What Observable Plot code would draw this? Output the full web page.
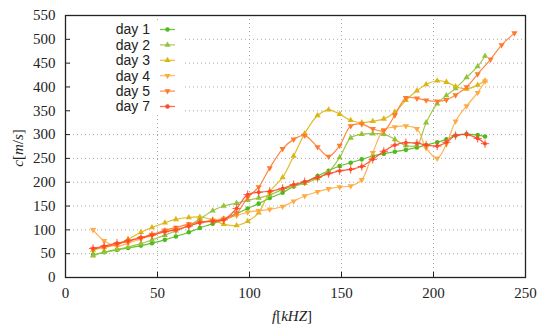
<!DOCTYPE html>
<html><head><meta charset="utf-8">
<script src="https://cdn.jsdelivr.net/npm/d3@7"></script>
<script src="https://cdn.jsdelivr.net/npm/@observablehq/plot@0.6"></script>
<style>body{margin:0;background:#fff} #chart{width:538px;height:329px}</style>
</head><body><div id="chart"></div><script>
// Frequency samples (kHz)
const freq = [15, 21, 28, 34, 41, 47, 54, 60, 67, 73, 80, 86, 93, 99, 105, 111, 118, 124, 130, 137, 143, 149, 155, 161, 167, 173, 179, 185, 191, 196, 202, 207, 212, 218, 224, 228];
const freq5 = [15, 21, 28, 34, 41, 47, 54, 60, 67, 73, 80, 86, 93, 99, 105, 111, 118, 124, 130, 137, 143, 149, 155, 161, 167, 173, 179, 185, 191, 196, 202, 207, 212, 218, 224, 231, 237, 244];
// Speeds c (m/s)
const day1 = [48, 53, 58, 62, 67, 72, 79, 86, 95, 104, 113, 123, 134, 145, 155, 167, 178, 191, 200, 213, 224, 234, 241, 248, 255, 260, 264, 268, 273, 278, 284, 290, 298, 301, 299, 296];
const day2 = [46, 53, 59, 64, 71, 79, 89, 98, 109, 123, 140, 150, 156, 162, 167, 173, 185, 192, 198, 208, 222, 252, 293, 301, 302, 301, 290, 277, 278, 325, 365, 382, 397, 420, 443, 465];
const day3 = [58, 63, 69, 80, 95, 105, 115, 122, 126, 127, 121, 112, 109, 118, 136, 180, 210, 255, 302, 340, 352, 343, 330, 325, 328, 333, 347, 372, 392, 405, 413, 410, 401, 396, 404, 413];
const day4 = [100, 77, 66, 72, 81, 88, 96, 101, 108, 115, 120, 124, 130, 137, 140, 143, 149, 160, 171, 180, 186, 190, 192, 205, 262, 310, 316, 318, 312, 272, 250, 280, 328, 360, 388, 412];
const day5 = [60, 64, 70, 76, 83, 90, 99, 105, 112, 116, 119, 121, 135, 168, 190, 230, 270, 290, 298, 274, 254, 277, 318, 322, 312, 308, 341, 377, 376, 372, 370, 373, 383, 400, 427, 458, 488, 513];
const day7 = [61, 66, 72, 77, 84, 89, 96, 100, 108, 115, 118, 121, 145, 174, 179, 181, 187, 195, 201, 210, 218, 224, 227, 233, 248, 265, 278, 283, 282, 278, 276, 284, 298, 300, 292, 281];

const seriesNames = ["day 1", "day 2", "day 3", "day 4", "day 5", "day 7"];
const seriesColors = ["#4fbb1c", "#95c23a", "#dcb614", "#ffab42", "#ff7a2e", "#ff4a2a"];
const xTicks = [0, 50, 100, 150, 200, 250];
const yTicks = [0, 50, 100, 150, 200, 250, 300, 350, 400, 450, 500, 550];
const xGrid = [50, 100, 150, 200];
const yGrid = [50, 100, 150, 200, 250, 300, 350, 400, 450, 500];

const seriesData = [
  [freq, day1], [freq, day2], [freq, day3], [freq, day4], [freq5, day5], [freq, day7]
];
const rows = [];
seriesData.forEach(([xs, ys], k) => xs.forEach((x, i) => rows.push({series: seriesNames[k], f: x, c: ys[i]})));

// custom downward triangle symbol
const triangleDown = {
  draw(ctx, size) {
    const y = -Math.sqrt(size / (Math.sqrt(3) * 3));
    const s = Math.sqrt(3);
    ctx.moveTo(0, -y * 2);
    ctx.lineTo(-s * y, y);
    ctx.lineTo(s * y, y);
    ctx.closePath();
  }
};
const symbols = ["circle", "triangle", "triangle", triangleDown, triangleDown, "circle"];

const W = 538, H = 329, ML = 65, MR = 13, MT = 15, MB = 52;
const fw = W - ML - MR, fh = H - MT - MB;

const marks = [
  Plot.ruleX(xGrid, {x: d => d, stroke: "#aaa", strokeWidth: 1, strokeDasharray: "1,3"}),
  Plot.ruleY(yGrid, {y: d => d, stroke: "#aaa", strokeWidth: 1, strokeDasharray: "1,3"}),
  Plot.tickY(yTicks, {y: d => d, insetRight: fw - 5, stroke: "#222", strokeWidth: 1}),
  Plot.tickX(xTicks, {x: d => d, insetTop: fh - 5, stroke: "#222", strokeWidth: 1}),
  Plot.axisX({ticks: xTicks, tickSize: 0, tickPadding: 10, label: null, fontSize: 15, fontFamily: "Liberation Serif", fill: "#222"}),
  Plot.axisY({ticks: yTicks, tickSize: 0, tickPadding: 10, label: null, fontSize: 15, fontFamily: "Liberation Serif", fill: "#222"})
];
seriesNames.forEach((name, k) => {
  const d = rows.filter(r => r.series === name);
  marks.push(Plot.line(d, {x: "f", y: "c", stroke: seriesColors[k], strokeWidth: 1.2, curve: "catmull-rom", strokeOpacity: 0.9}));
  if (k === 5) {
    marks.push(Plot.dot(d, {x: "f", y: "c", symbol: "plus", r: 2.8, stroke: seriesColors[k], strokeWidth: 0.9}));
    marks.push(Plot.dot(d, {x: "f", y: "c", symbol: "circle", r: 1.9, fill: seriesColors[k]}));
  } else {
    marks.push(Plot.dot(d, {x: "f", y: "c", symbol: symbols[k], r: k === 0 ? 2.3 : 2.3, fill: seriesColors[k]}));
  }
});
marks.push(Plot.frame({stroke: "#222", strokeWidth: 1.3}));

const chart = Plot.plot({
  width: W, height: H,
  marginLeft: ML, marginRight: MR, marginTop: MT, marginBottom: MB,
  x: {domain: [0, 250]},
  y: {domain: [0, 550]},
  style: {fontFamily: "Liberation Serif", fontSize: "15px", color: "#222", background: "#fff"},
  marks
});
document.getElementById("chart").appendChild(chart);

const svg = d3.select(chart);
// legend
const lg = svg.append("g");
lg.append("rect").attr("x", 73).attr("y", 21).attr("width", 110).attr("height", 93).attr("fill", "#fff");
seriesNames.forEach((name, k) => {
  const y = 29.5 + k * 15.4;
  lg.append("text").attr("x", 150).attr("y", y).attr("dy", "0.35em").attr("text-anchor", "end")
    .attr("font-family", "Liberation Sans").attr("font-size", 14).attr("fill", "#222").text(name);
  lg.append("line").attr("x1", 160).attr("x2", 175).attr("y1", y).attr("y2", y)
    .attr("stroke", seriesColors[k]).attr("stroke-width", 1.3).attr("stroke-opacity", 0.8);
  const sym = typeof symbols[k] === "string" ? (symbols[k] === "circle" ? d3.symbolCircle : d3.symbolTriangle) : triangleDown;
  lg.append("path").attr("d", d3.symbol(sym, 16)()).attr("transform", `translate(167.5,${y})`).attr("fill", seriesColors[k]);
});
// axis titles
const yl = svg.append("text").attr("transform", "translate(23,148) rotate(-90)").attr("text-anchor", "middle")
  .attr("font-family", "Liberation Serif").attr("font-size", 15).attr("fill", "#222");
yl.append("tspan").attr("font-style", "italic").text("c");
yl.append("tspan").text("[");
yl.append("tspan").attr("font-style", "italic").text("m");
yl.append("tspan").text("/");
yl.append("tspan").attr("font-style", "italic").text("s");
yl.append("tspan").text("]");
const xl = svg.append("text").attr("x", 292).attr("y", 321).attr("text-anchor", "middle")
  .attr("font-family", "Liberation Serif").attr("font-size", 15).attr("fill", "#222");
xl.append("tspan").attr("font-style", "italic").text("f");
xl.append("tspan").text("[");
xl.append("tspan").attr("font-style", "italic").text("kHZ");
xl.append("tspan").text("]");
</script></body></html>
